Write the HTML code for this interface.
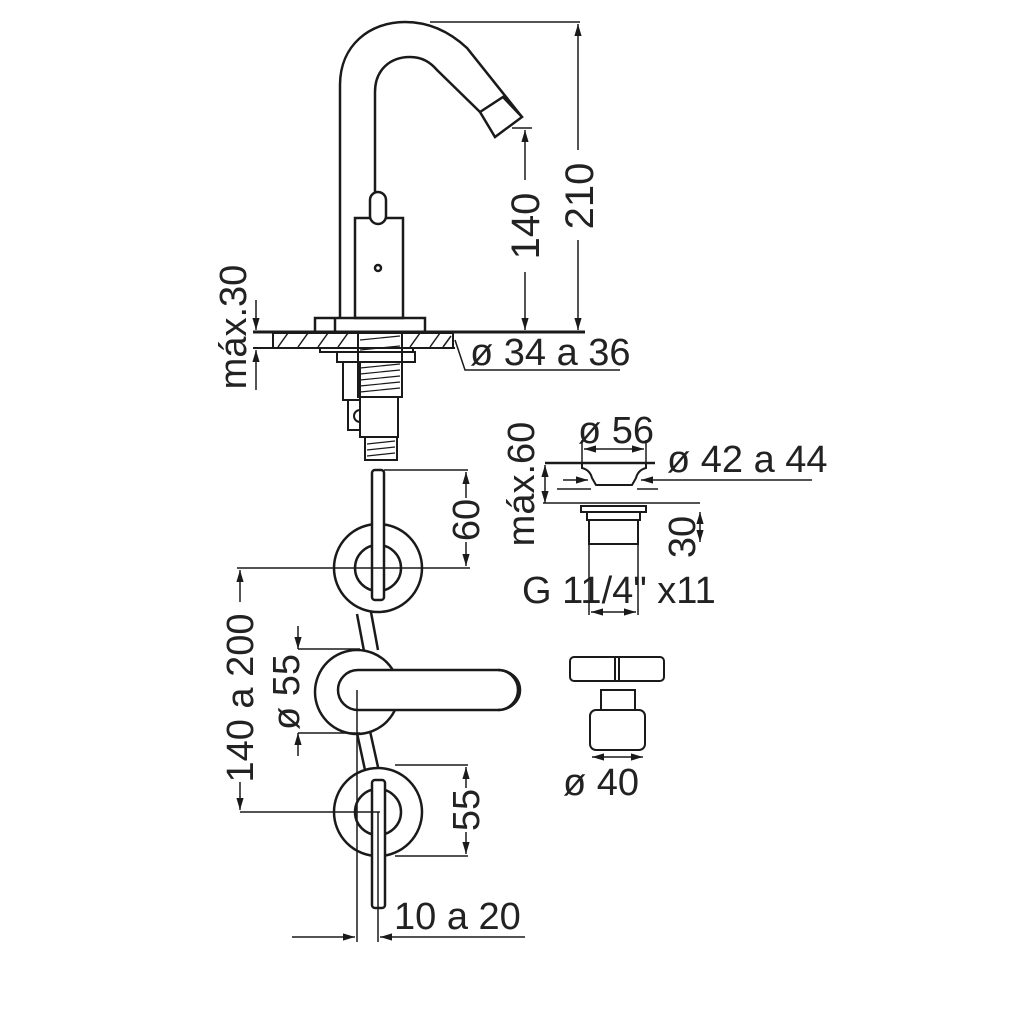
<!DOCTYPE html>
<html><head><style>html,body{margin:0;padding:0;background:#fff}</style></head><body>
<svg width="1024" height="1024" viewBox="0 0 1024 1024" xmlns="http://www.w3.org/2000/svg" font-family="Liberation Sans, sans-serif" fill="none" stroke="#1a1a1a">
<defs>
<marker id="a" viewBox="0 0 10 10" refX="10" refY="5" markerWidth="8" markerHeight="8" orient="auto-start-reverse"><path d="M0,2 L10,5 L0,8 z" fill="#1a1a1a" stroke="none"/></marker>
</defs>
<g stroke-width="2.5">
<!-- spout -->
<path d="M340,318 L340,85 C340,45 370,22 405,22 C432,22 452,34 467,48 L522,117"/>
<path d="M375,192 L375,92 C375,70 390,57 410,57 C422,57 430,62 437,70 L480,112"/>
<path d="M480,112 L503,97 L522,117 L495,137 Z"/>
<rect x="355" y="218" width="48" height="100"/>
<rect x="370" y="192" width="16" height="32" rx="8" fill="#fff"/>
<circle cx="378" cy="268" r="3"/>
<rect x="315" y="318" width="110" height="14"/>
<line x1="335" y1="318" x2="335" y2="332"/>
</g>
<g stroke-width="2">
<line x1="253" y1="332" x2="585" y2="332" stroke-width="3"/>
<line x1="253" y1="348" x2="455" y2="348"/>
<rect x="273" y="333" width="180" height="15"/>
<path d="M278,347 l10,-14 M298,347 l10,-14 M318,347 l10,-14 M338,347 l10,-14 M410,347 l10,-14 M430,347 l10,-14 M443,347 l8,-11" stroke-width="1.5"/>
<rect x="320" y="348" width="93" height="4"/>
<rect x="337" y="352" width="78" height="10"/>
<rect x="358" y="333" width="44" height="64"/>
<path d="M360,340 l40,-4 M360,350 l40,-4 M360,368 l40,-4 M360,374 l40,-4 M360,380 l40,-4 M360,386 l40,-4 M360,392 l40,-4" stroke-width="1.2"/>
<rect x="343" y="362" width="17" height="38"/>
<path d="M348,400 L360,400 M348,400 L348,430 L360,430" />
<path d="M360,410 a6,6 0 0 0 0,12"/>
<rect x="360" y="397" width="38" height="40"/>
<rect x="365" y="437" width="32" height="23"/>
<path d="M367,444 l28,-3 M367,450 l28,-3 M367,456 l28,-3" stroke-width="1.2"/>
<path d="M455,340 L465,370 L620,370" stroke-width="1.5"/>
</g>
<g stroke-width="1.5">
<line x1="430" y1="22" x2="580" y2="22"/>
<line x1="578" y1="24" x2="578" y2="150" marker-start="url(#a)"/>
<line x1="578" y1="240" x2="578" y2="330" marker-end="url(#a)"/>
<line x1="512" y1="128" x2="532" y2="128"/>
<line x1="525" y1="130" x2="525" y2="180" marker-start="url(#a)"/>
<line x1="525" y1="272" x2="525" y2="330" marker-end="url(#a)"/>
<line x1="256" y1="300" x2="256" y2="330" marker-end="url(#a)"/>
<line x1="256" y1="390" x2="256" y2="350" marker-end="url(#a)"/>
</g>
<g fill="#222" stroke="none" font-size="38">
<text transform="translate(593,196) rotate(-90)" text-anchor="middle" font-size="40">210</text>
<text transform="translate(539,226) rotate(-90)" text-anchor="middle" font-size="40">140</text>
<text transform="translate(246,327) rotate(-90)" text-anchor="middle">máx.30</text>
<text x="470" y="365">ø 34 a 36</text>
<text transform="translate(479,520) rotate(-90)" text-anchor="middle">60</text>
<text transform="translate(253,698) rotate(-90)" text-anchor="middle">140 a 200</text>
<text transform="translate(299,692) rotate(-90)" text-anchor="middle">ø 55</text>
<text transform="translate(479,810) rotate(-90)" text-anchor="middle">55</text>
<text x="394" y="929">10 a 20</text>
<text transform="translate(534,484) rotate(-90)" text-anchor="middle">máx.60</text>
<text x="578" y="443">ø 56</text>
<text x="667" y="472">ø 42 a 44</text>
<text transform="translate(695,537) rotate(-90)" text-anchor="middle">30</text>
<text x="522" y="603">G 11/4" x11</text>
<text x="563" y="795">ø 40</text>
</g>
<g stroke-width="2.5">
<path d="M357,614 L364,651 M371,612 L378,650" />
<path d="M357,733 L365,770 M370,731 L378,767" />
<circle cx="378" cy="568" r="44" fill="#fff"/>
<circle cx="378" cy="568" r="23"/>
<rect x="372" y="470" width="12" height="130" rx="3" fill="#fff"/>
<circle cx="357" cy="692" r="42" fill="#fff"/>
<path d="M498,670 L358,670 A20,20 0 0 0 358,710 L498,710 A20,20 0 0 0 498,670 Z" fill="#fff"/>
<path d="M498,670 A22,20 0 0 1 498,710"/>
<circle cx="378" cy="812" r="44" fill="#fff"/>
<circle cx="378" cy="812" r="23"/>
<rect x="372" y="780" width="13" height="128" rx="3" fill="#fff"/>
</g>
<g stroke-width="1.5">
<line x1="384" y1="470" x2="468" y2="470"/>
<line x1="237" y1="568" x2="470" y2="568"/>
<line x1="466" y1="472" x2="466" y2="498" marker-start="url(#a)"/>
<line x1="466" y1="542" x2="466" y2="566" marker-end="url(#a)"/>
<line x1="240" y1="570" x2="240" y2="602" marker-start="url(#a)"/>
<line x1="240" y1="782" x2="240" y2="810" marker-end="url(#a)"/>
<line x1="240" y1="812" x2="380" y2="812"/>
<line x1="298" y1="649" x2="360" y2="649"/>
<line x1="298" y1="733" x2="360" y2="733"/>
<line x1="298" y1="626" x2="298" y2="649" marker-end="url(#a)"/>
<line x1="298" y1="756" x2="298" y2="733" marker-end="url(#a)"/>
<line x1="395" y1="765" x2="468" y2="765"/>
<line x1="395" y1="856" x2="468" y2="856"/>
<line x1="466" y1="767" x2="466" y2="788" marker-start="url(#a)"/>
<line x1="466" y1="832" x2="466" y2="854" marker-end="url(#a)"/>
<line x1="357" y1="690" x2="357" y2="942"/>
<line x1="378" y1="812" x2="378" y2="942"/>
<line x1="292" y1="937" x2="355" y2="937" marker-end="url(#a)"/>
<line x1="525" y1="937" x2="380" y2="937" marker-end="url(#a)"/>
</g>
<g stroke-width="2">
<line x1="545" y1="463" x2="655" y2="463" stroke-width="2.5"/>
<path d="M582,463 L582,468 Q590,470 592,478 L596,485 L632,485 L636,478 Q638,470 646,468 L646,463"/>
<rect x="581" y="506" width="65" height="6"/>
<rect x="587" y="512" width="53" height="8"/>
<rect x="589" y="520" width="49" height="24"/>
<rect x="570" y="657" width="94" height="24" rx="4"/>
<line x1="615" y1="657" x2="615" y2="681"/><line x1="619" y1="657" x2="619" y2="681"/>
<rect x="601" y="690" width="34" height="20"/>
<rect x="590" y="710" width="55" height="40" rx="6"/>
</g>
<g stroke-width="1.5">
<line x1="545" y1="465" x2="545" y2="503" marker-start="url(#a)" marker-end="url(#a)"/>
<line x1="543" y1="503" x2="700" y2="503"/>
<line x1="557" y1="489" x2="591" y2="489"/>
<line x1="637" y1="489" x2="658" y2="489"/>
<line x1="563" y1="480" x2="588" y2="480" marker-end="url(#a)"/>
<line x1="812" y1="480" x2="641" y2="480" marker-end="url(#a)"/>
<line x1="582" y1="440" x2="582" y2="463"/><line x1="646" y1="440" x2="646" y2="463"/>
<line x1="584" y1="449" x2="644" y2="449" marker-start="url(#a)" marker-end="url(#a)"/>
<line x1="700" y1="512" x2="700" y2="542" marker-start="url(#a)" marker-end="url(#a)"/>
<line x1="589" y1="545" x2="589" y2="615"/><line x1="638" y1="545" x2="638" y2="615"/>
<line x1="591" y1="612" x2="636" y2="612" marker-start="url(#a)" marker-end="url(#a)"/>
<line x1="592" y1="757" x2="643" y2="757" marker-start="url(#a)" marker-end="url(#a)"/>
</g>
</svg>
</body></html>
